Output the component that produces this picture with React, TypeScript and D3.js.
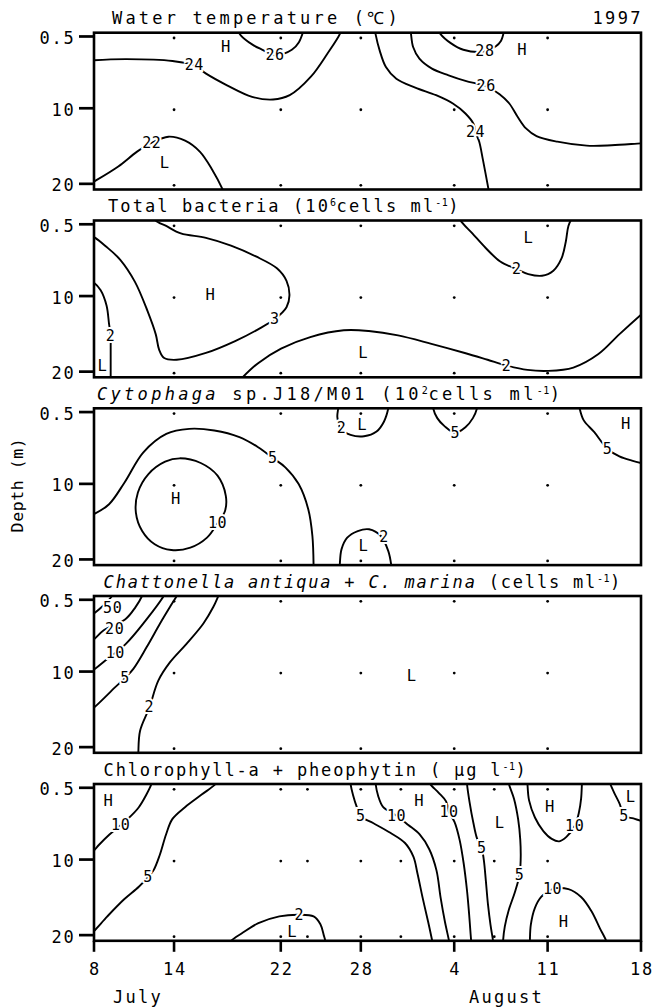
import React from 'react';
import * as d3 from 'd3';

type Pt = [number, number];

// ---------- axes ----------
const dateTicks = [0, 6, 14, 20, 27, 34, 41]; // days after July 8
const dateTickLabels = ['8', '14', '22', '28', '4', '11', '18'];
const depthTicks = [0.5, 10, 20];
const depthTickLabels = ['0.5', '10', '20'];
const monthLabels = ['July', 'August'];
const monthDays = [1.42, 28.1];
const sampleDays = [6, 14, 20, 27, 34];
const sampleDaysChl = [6, 14, 16, 20, 23, 27, 30, 34];
const sampleDepths = [0.5, 10, 20];

// ---------- Water temperature ----------
const wt24a: Pt[] = [[-0.3,3.7],[0,3.65],[2.45,3.5],[5.89,3.75],[7.52,4.32],[8.4,5.42],[9.97,6.96],[11.85,8.49],[13.42,8.84],[14.67,8.27],[16.24,5.86],[17.49,2.78],[18.43,0.15],[18.5,-0.4]];
const wt26a: Pt[] = [[10.75,-0.4],[11.0,0.35],[11.85,1.55],[12.63,2.26],[13.57,3.0],[14.83,2.26],[15.36,1.25],[15.72,-0.4]];
const wt24b: Pt[] = [[21.05,-0.4],[21.1,0.15],[21.41,2.34],[21.88,4.54],[22.66,6.08],[24.08,7.26],[25.64,8.27],[26.9,9.37],[27.84,10.69],[28.46,12.1],[28.6,13.2],[28.87,14.4],[29.15,16.8],[29.62,21.2]];
const wt26b: Pt[] = [[23.72,-0.4],[23.76,0.15],[23.92,1.9],[24.39,3.44],[25.33,4.76],[26.58,5.64],[27.84,6.38],[29.4,7.09],[30.4,8.14],[31.13,9.37],[31.75,11.13],[32.38,12.67],[33.17,13.68],[34.73,14.42],[36.93,14.95],[38.8,14.9],[41,14.64],[41.5,14.6]];
const wt28: Pt[] = [[25.8,-0.4],[25.96,0.15],[26.74,1.38],[27.68,2.26],[29.2,2.5],[30.1,1.82],[30.5,1.1],[30.75,-0.4]];
const wt22: Pt[] = [[-0.3,20.0],[0,19.7],[1.82,17.7],[3.23,15.74],[4.33,14.55],[5.58,13.76],[6.83,14.29],[7.93,15.74],[8.87,18.16],[9.66,20.8],[9.75,21.2]];
const wtLabels = ['24', '26', '24', '26', '28', '22'];
const wtLabelPos: Pt[] = [[7.52,4.32],[13.57,3.0],[28.6,13.2],[29.4,7.09],[29.3,2.45],[4.33,14.55]];
const wtMarks = ['H', 'H', 'L'];
const wtMarkPos: Pt[] = [[9.87,1.9],[32.07,2.26],[5.27,17.3]];

// ---------- Total bacteria ----------
const tb3: Pt[] = [[4.6,-0.6],[4.63,0],[5.41,0.72],[6.51,1.71],[8.39,2.29],[10.27,3.32],[12.14,4.76],[13.71,6.33],[14.43,7.99],[14.65,9.91],[14.43,11.48],[13.55,13.05],[12.3,14.4],[10.58,15.96],[8.39,17.53],[6.2,18.43],[5.26,18.2],[4.88,17.08],[4.63,15.07],[4.0,11.93],[3.07,8.12],[1.97,5.2],[0.88,3.41],[0,2.2],[-0.5,1.8]];
const tb2a: Pt[] = [[-0.3,8.0],[0,8.25],[0.5,9.24],[0.94,11.26],[1.13,13.72],[1.25,15.3],[1.25,16.6],[1.25,21.2]];
const tb2b: Pt[] = [[27.4,-0.6],[27.48,0],[28.36,1.71],[29.36,3.64],[30.45,5.43],[31.7,6.46],[32.55,7.09],[33.58,7.31],[34.43,6.64],[35.05,4.98],[35.37,2.74],[35.56,0.72],[35.9,-0.6]];
const tb2c: Pt[] = [[10.9,21.2],[11.14,20.75],[12.3,18.88],[14.02,16.95],[16.21,15.43],[18.72,14.53],[20.6,14.62],[22.79,15.2],[25.29,16.32],[27.79,17.53],[29.5,18.43],[30.92,19.19],[32.49,19.77],[34.05,19.9],[35.93,19.46],[37.81,17.67],[39.37,15.07],[41,12.47],[41.5,11.7]];
const tbLabels = ['3', '2', '2', '2'];
const tbLabelPos: Pt[] = [[13.55,13.05],[1.25,15.3],[31.7,6.46],[30.92,19.19]];
const tbMarks = ['H', 'L', 'L', 'L'];
const tbMarkPos: Pt[] = [[8.7,9.91],[32.55,2.29],[20.16,17.53],[0.62,19.2]];

// ---------- Cytophaga ----------
const cy5a: Pt[] = [[-0.3,14.2],[0,14.0],[1.13,12.69],[2.29,9.81],[3.7,5.82],[5.42,3.38],[7.14,2.72],[9.02,2.94],[10.9,3.82],[12.3,5.15],[13.4,6.57],[14.34,7.81],[15.34,10.03],[16.06,13.35],[16.37,16.9],[16.46,21.2]];
const cy10: Pt[] = [[6.43,6.62],[8.0,7.24],[9.26,8.92],[9.88,11.58],[9.82,13.58],[9.26,15.2],[8.47,17.12],[7.22,18.45],[5.8,18.76],[4.55,18.0],[3.61,16.24],[3.14,13.8],[3.29,11.14],[4.08,8.7],[5.33,7.06]];
const cy2a: Pt[] = [[18.3,-0.6],[18.3,0],[18.24,1.16],[18.5,2.72],[19.23,3.51],[20.24,3.69],[21.18,3.07],[21.74,1.74],[22.06,0],[22.1,-0.6]];
const cy5b: Pt[] = [[25.4,-0.6],[25.42,0],[25.73,1.3],[26.27,2.36],[27.08,3.25],[27.84,2.5],[28.4,1.3],[28.71,0],[28.75,-0.6]];
const cy5c: Pt[] = [[36.35,-0.6],[36.4,0],[36.71,1.6],[37.5,3.16],[38.5,5.38],[39.38,6.35],[40.32,6.93],[41,7.24],[41.5,7.4]];
const cy2b: Pt[] = [[18.4,21.2],[18.42,20.75],[18.55,18.67],[18.98,17.12],[19.77,16.24],[20.62,16.01],[21.5,16.9],[22.06,18.9],[22.28,20.75],[22.3,21.2]];
const cyLabels = ['5', '10', '2', '5', '5', '2'];
const cyLabelPos: Pt[] = [[13.4,6.57],[9.26,15.2],[18.55,2.6],[27.08,3.25],[38.5,5.38],[21.74,17.0]];
const cyMarks = ['H', 'L', 'H', 'L'];
const cyMarkPos: Pt[] = [[6.12,12.0],[20.08,2.27],[39.85,2.05],[20.18,18.23]];

// ---------- Chattonella ----------
const ch50: Pt[] = [[-0.3,2.6],[0,2.3],[0.6,1.43],[1.35,0],[1.5,-0.5]];
const ch20: Pt[] = [[-0.3,6.1],[0,5.73],[0.73,4.53],[2.35,3.07],[3.1,1.5],[3.6,0],[3.7,-0.5]];
const ch10: Pt[] = [[-0.3,10.0],[0,9.73],[0.85,8.53],[2.35,6.4],[3.85,3.29],[5.22,0],[5.35,-0.5]];
const ch5: Pt[] = [[-0.3,15.1],[0,14.76],[1.57,12.1],[2.32,10.84],[2.95,9.64],[3.95,6.76],[4.95,3.64],[5.7,1.43],[6.2,0],[6.35,-0.5]];
const ch2: Pt[] = [[3.3,21.2],[3.32,20.75],[3.45,17.87],[4.15,14.76],[4.82,11.2],[5.7,8.76],[6.95,6.3],[8.2,3.64],[8.95,1.43],[9.32,0],[9.45,-0.5]];
const chLabels = ['50', '20', '10', '5', '2'];
const chLabelPos: Pt[] = [[1.4,1.65],[1.55,4.35],[1.6,7.5],[2.32,10.84],[4.15,14.74]];
const chMarks = ['L'];
const chMarkPos: Pt[] = [[23.8,10.6]];

// ---------- Chlorophyll-a + pheophytin ----------
const cp10a: Pt[] = [[4.35,-0.6],[4.3,0],[3.9,1.49],[3.36,3.07],[2.73,4.29],[2.0,5.47],[1.16,6.68],[0.38,8.04],[0,8.8],[-0.3,9.3]];
const cp5a: Pt[] = [[9.3,-0.6],[9.11,0],[8.07,1.4],[6.82,3.07],[5.87,4.65],[5.4,6.68],[4.93,9.39],[4.46,11.43],[4.05,12.33],[3.36,13.6],[2.26,15.26],[1.0,17.52],[0,19.46],[-0.3,19.9]];
const cp2: Pt[] = [[10.1,21.2],[10.27,20.75],[11.06,19.78],[12.32,18.42],[13.89,17.52],[15.39,17.3],[16.46,17.52],[16.97,18.56],[17.22,20.0],[17.34,20.75],[17.36,21.2]];
const cp5b: Pt[] = [[19.2,-0.6],[19.23,0],[19.42,1.49],[19.7,3.07],[20.0,4.29],[20.95,5.2],[22.21,6.46],[23.31,7.81],[23.94,9.62],[24.25,11.88],[24.63,15.04],[25.04,18.2],[25.35,20.75],[25.4,21.2]];
const cp10b: Pt[] = [[21.1,-0.6],[21.11,0],[21.3,1.58],[21.68,3.07],[22.68,4.2],[23.56,5.42],[24.41,6.68],[25.13,8.63],[25.67,11.43],[25.98,15.04],[26.3,18.2],[26.61,20.75],[26.65,21.2]];
const cp10c: Pt[] = [[25.1,-0.6],[25.2,0],[25.82,1.13],[26.39,2.3],[26.61,3.75],[27.02,5.01],[27.4,7.36],[27.71,10.52],[27.96,14.13],[28.12,17.3],[28.27,20.75],[28.3,21.2]];
const cp5c: Pt[] = [[27.95,-0.6],[27.96,0],[28.15,2.4],[28.43,5.1],[28.72,7.27],[29.06,8.49],[29.22,10.07],[29.37,12.78],[29.53,15.94],[29.72,18.65],[29.91,20.75],[29.93,21.2]];
const cp5d: Pt[] = [[31.05,-0.6],[31.1,0],[31.48,1.94],[31.79,4.65],[31.95,7.36],[31.98,10.07],[31.89,12.1],[31.54,14.36],[31.1,16.62],[30.79,18.88],[30.66,20.75],[30.65,21.2]];
const cp10d: Pt[] = [[32.47,-0.6],[32.49,0],[32.61,2.17],[33.05,4.43],[33.68,6.23],[34.31,7.27],[34.87,7.59],[35.41,7.0],[36.03,5.56],[36.35,3.75],[36.51,1.94],[36.57,0],[36.58,-0.6]];
const cp5e: Pt[] = [[38.6,-0.6],[38.7,0],[39.02,1.27],[39.4,2.62],[39.74,4.2],[40.43,4.56],[41,4.88],[41.5,5.1]];
const cp10e: Pt[] = [[32.66,21.2],[32.67,20.75],[32.74,18.65],[33.05,16.4],[33.52,14.95],[34.37,13.91],[35.56,13.91],[36.51,14.95],[37.29,16.84],[37.92,19.1],[38.39,20.75],[38.45,21.2]];
const cpLabels = ['10', '5', '2', '5', '10', '10', '5', '5', '10', '5', '10'];
const cpLabelPos: Pt[] = [[2.0,5.47],[4.05,12.33],[15.39,17.3],[20.0,4.29],[22.68,4.2],[26.61,3.75],[29.06,8.49],[31.89,12.1],[36.03,5.56],[39.74,4.2],[34.37,13.91]];
const cpMarks = ['H', 'L', 'H', 'L', 'H', 'L', 'H'];
const cpMarkPos: Pt[] = [[1.07,2.3],[14.83,19.55],[24.35,2.3],[30.38,5.1],[34.15,3.07],[40.21,1.72],[35.19,18.29]];

// ---------- layout ----------
const W = 656, H = 1008;
const X0 = 94, X1 = 641;
const PH = 156.8;
const panelTops = [32.7, 220.5, 408.3, 596, 784];
const titleX = [112, 108, 97, 103.6, 103.6];
const titleSpacing = [3.2, 2.1, 3.3, 1.8, 1.85];
const FONT = '"DejaVu Sans Mono", monospace';

type Seg = { t: string; i?: boolean; sup?: boolean };
type Panel = {
  title: Seg[];
  lines: Pt[][];
  closed?: number[];
  labels: string[];
  labelPos: Pt[];
  marks: string[];
  markPos: Pt[];
  days: number[];
};

const panels: Panel[] = [
  { title: [{ t: 'Water temperature (℃)' }], lines: [wt24a, wt26a, wt24b, wt26b, wt28, wt22], labels: wtLabels, labelPos: wtLabelPos, marks: wtMarks, markPos: wtMarkPos, days: sampleDays },
  { title: [{ t: 'Total bacteria (10' }, { t: '6', sup: true }, { t: 'cells ml' }, { t: '-1', sup: true }, { t: ')' }], lines: [tb3, tb2a, tb2b, tb2c], labels: tbLabels, labelPos: tbLabelPos, marks: tbMarks, markPos: tbMarkPos, days: sampleDays },
  { title: [{ t: 'Cytophaga', i: true }, { t: ' sp.J18/M01 (10' }, { t: '2', sup: true }, { t: 'cells ml' }, { t: '-1', sup: true }, { t: ')' }], lines: [cy5a, cy10, cy2a, cy5b, cy5c, cy2b], closed: [1], labels: cyLabels, labelPos: cyLabelPos, marks: cyMarks, markPos: cyMarkPos, days: sampleDays },
  { title: [{ t: 'Chattonella antiqua', i: true }, { t: ' + ' }, { t: 'C. marina', i: true }, { t: ' (cells ml' }, { t: '-1', sup: true }, { t: ')' }], lines: [ch50, ch20, ch10, ch5, ch2], labels: chLabels, labelPos: chLabelPos, marks: chMarks, markPos: chMarkPos, days: sampleDays },
  { title: [{ t: 'Chlorophyll-a + pheophytin ( μg l' }, { t: '-1', sup: true }, { t: ')' }], lines: [cp10a, cp5a, cp2, cp5b, cp10b, cp10c, cp5c, cp5d, cp10d, cp5e, cp10e], labels: cpLabels, labelPos: cpLabelPos, marks: cpMarks, markPos: cpMarkPos, days: sampleDaysChl },
];

const x = d3.scaleLinear().domain([0, 41]).range([X0, X1]);

function Title({ segs, y, x0, ls }: { segs: Seg[]; y: number; x0: number; ls: number }) {
  const out: React.ReactNode[] = [];
  let prevSup = false;
  segs.forEach((s, k) => {
    let dy = 0;
    if (s.sup && !prevSup) dy = -6;
    if (!s.sup && prevSup) dy = 6;
    out.push(
      <tspan key={k} dy={dy} fontSize={s.sup ? 10 : 17} fontStyle={s.i ? 'italic' : 'normal'} letterSpacing={s.sup ? 0.5 : ls}>
        {s.t}
      </tspan>
    );
    prevSup = !!s.sup;
  });
  return (
    <text x={x0} y={y} fontFamily={FONT} fontSize={17} fill="#000" style={{ whiteSpace: 'pre' }}>
      {out}
    </text>
  );
}

function PanelView({ p, idx }: { p: Panel; idx: number }) {
  const top = panelTops[idx];
  const y = d3.scaleLinear().domain([0, 20.75]).range([top, top + PH]);
  const line = d3.line<Pt>().x(d => x(d[0])).y(d => y(d[1])).curve(d3.curveCatmullRom.alpha(0.5));
  const closedLine = d3.line<Pt>().x(d => x(d[0])).y(d => y(d[1])).curve(d3.curveCatmullRomClosed.alpha(0.5));
  const clipId = `clip${idx}`;
  return (
    <g>
      <defs>
        <clipPath id={clipId}>
          <rect x={X0} y={top} width={X1 - X0} height={PH} />
        </clipPath>
      </defs>
      <g clipPath={`url(#${clipId})`}>
        {p.lines.map((pts, k) => (
          <path key={k} d={(p.closed && p.closed.includes(k) ? closedLine(pts) : line(pts)) || ''} fill="none" stroke="#000" strokeWidth={1.9} strokeLinejoin="round" />
        ))}
      </g>
      {p.days.map(dd => sampleDepths.map(dp => (
        <circle key={`${dd}-${dp}`} cx={x(dd)} cy={y(dp) + 1.5} r={1.4} fill="#000" />
      )))}
      {p.labels.map((l, k) => (
        <text key={`l${k}`} x={x(p.labelPos[k][0])} y={y(p.labelPos[k][1])} fontFamily={FONT} fontSize={15} textAnchor="middle" dominantBaseline="central" letterSpacing={0.6} stroke="#fff" strokeWidth={4} paintOrder="stroke" fill="#000">{l}</text>
      ))}
      {p.marks.map((m, k) => (
        <text key={`m${k}`} x={x(p.markPos[k][0])} y={y(p.markPos[k][1])} fontFamily={FONT} fontSize={15.5} textAnchor="middle" dominantBaseline="central" fill="#000">{m}</text>
      ))}
      <rect x={X0} y={top} width={X1 - X0} height={PH} fill="none" stroke="#000" strokeWidth={2.6} />
      {depthTicks.map((t, k) => (
        <g key={`t${k}`}>
          <line x1={79} x2={X0} y1={y(t)} y2={y(t)} stroke="#000" strokeWidth={2.7} />
          <text x={75.5} y={y(t) + 7.5} fontFamily={FONT} fontSize={17} letterSpacing={1.8} textAnchor="end" fill="#000">{depthTickLabels[k]}</text>
        </g>
      ))}
      <Title segs={p.title} y={top - 8.5} x0={titleX[idx]} ls={titleSpacing[idx]} />
    </g>
  );
}

export default function App() {
  const bottom = panelTops[4] + PH;
  return (
    <svg width={W} height={H} style={{ position: 'absolute', left: 0, top: 0, background: '#fff' }} xmlns="http://www.w3.org/2000/svg">
      <rect x={0} y={0} width={W} height={H} fill="#fff" />
      {panels.map((p, i) => <PanelView key={i} p={p} idx={i} />)}
      <text x={643} y={24} fontFamily={FONT} fontSize={17} letterSpacing={2.4} textAnchor="end" fill="#000">1997</text>
      {dateTicks.map((d, k) => (
        <g key={`x${k}`}>
          <line x1={x(d)} x2={x(d)} y1={bottom} y2={bottom + 11} stroke="#000" strokeWidth={2.6} />
          <text x={x(d) + 1} y={975} fontFamily={FONT} fontSize={17} letterSpacing={1.8} textAnchor="middle" fill="#000">{dateTickLabels[k]}</text>
        </g>
      ))}
      {monthLabels.map((m, k) => (
        <text key={m} x={x(monthDays[k])} y={1003} fontFamily={FONT} fontSize={17} letterSpacing={2.3} fill="#000">{m}</text>
      ))}
      <text transform="translate(17,485) rotate(-90)" fontFamily={FONT} fontSize={16.5} letterSpacing={0.6} textAnchor="middle" dominantBaseline="central" fill="#000">Depth (m)</text>
    </svg>
  );
}
